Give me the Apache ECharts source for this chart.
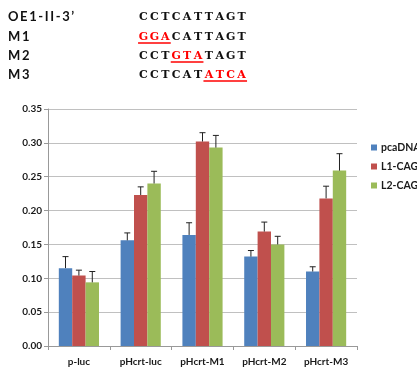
<!DOCTYPE html>
<html><head><meta charset="utf-8">
<script src="https://cdn.jsdelivr.net/npm/echarts@6/dist/echarts.min.js"></script>
<style>html,body{margin:0;padding:0;background:#fff}#c{width:417px;height:367px}</style>
</head><body><div id="c"></div>
<script>
const categories = ["p-luc","pHcrt-luc","pHcrt-M1","pHcrt-M2","pHcrt-M3"];
const seriesNames = ["pcaDNA","L1-CAG","L2-CAG"];
const pcaDNA = [0.115,0.156,0.164,0.132,0.110];
const L1CAG  = [0.104,0.223,0.302,0.169,0.218];
const L2CAG  = [0.094,0.240,0.293,0.150,0.259];
const errPca = [0.017,0.011,0.018,0.009,0.007];
const errL1  = [0.008,0.012,0.013,0.014,0.018];
const errL2  = [0.016,0.018,0.018,0.012,0.025];
const yTicks = [0,0.05,0.10,0.15,0.20,0.25,0.30,0.35];
const seqLabels = ["OE1-II-3’","M1","M2","M3"];
const sequences = ["CCTCATTAGT","GGACATTAGT","CCTGTATAGT","CCTCATATCA"];
const mutated = [null,[0,3],[3,6],[6,10]];

const colors = ["#4F81BD","#C0504D","#9BBB59"];
const FONT = "Lato";
const values = [pcaDNA,L1CAG,L2CAG];
const errs = [errPca,errL1,errL2];
const gapRatio = 0.35;

const chart = echarts.init(document.getElementById('c'));

const ctx = document.createElement('canvas').getContext('2d');
function measure(ch, font) { ctx.font = font; return ctx.measureText(ch).width; }

// header text graphics
const graphics = [];
const rowY = [17, 37, 56, 75];
const labelFont = 'bold 13px ' + FONT;
const labelX0 = 8, labelSpacing = 1.6;
const seqFont = 'bold 11px "DejaVu Serif"';
const seqX0 = 143.5, seqStep = 10.9;
seqLabels.forEach((lab, r) => {
  let x = labelX0;
  Array.from(lab).forEach((ch) => {
    graphics.push({type:'text', x: x, y: rowY[r],
      style:{text: ch, font: labelFont, fill:'#111', textAlign:'left', textVerticalAlign:'middle'}});
    x += measure(ch, labelFont) + labelSpacing;
  });
  const seq = sequences[r];
  const m = mutated[r];
  Array.from(seq).forEach((ch, i) => {
    const red = m && i >= m[0] && i < m[1];
    graphics.push({type:'text', x: seqX0 + i*seqStep, y: rowY[r],
      style:{text: ch, font: seqFont, fill: red ? '#FF0000' : '#111', textAlign:'center', textVerticalAlign:'middle'}});
  });
  if (m) {
    graphics.push({type:'line', shape:{x1: seqX0 - seqStep/2 + m[0]*seqStep, y1: rowY[r]+6, x2: seqX0 - seqStep/2 + m[1]*seqStep, y2: rowY[r]+6},
      style:{stroke:'#FF0000', lineWidth:1.3}});
  }
});

const barSeries = seriesNames.map((n, k) => ({
  name: n, type:'bar', data: values[k], barGap: '0%', barCategoryGap: (gapRatio*100)+'%',
  itemStyle:{color: colors[k]}, z: 2
}));

const errSeries = seriesNames.map((n, k) => ({
  type:'custom', name: n + ' err', z: 5,
  data: values[k].map((v, i) => [i, v, v + errs[k][i]]),
  renderItem: function (params, api) {
    const i = api.value(0);
    const band = api.size([1, 0])[0];
    const bw = band * (1 - gapRatio) / 3;
    const off = (k - 1) * bw;
    const p1 = api.coord([i, api.value(1)]);
    const p2 = api.coord([i, api.value(2)]);
    const x = p1[0] + off;
    const cap = 3;
    return {type:'group', children:[
      {type:'line', shape:{x1:x, y1:p1[1], x2:x, y2:p2[1]}, style:{stroke:'#222', lineWidth:1}},
      {type:'line', shape:{x1:x-cap, y1:p2[1], x2:x+cap, y2:p2[1]}, style:{stroke:'#222', lineWidth:1}}
    ]};
  },
  silent: true, tooltip: {show:false}
}));

chart.setOption({
  animation: false,
  textStyle: {fontFamily: FONT},
  grid: {left: 48, right: 60, top: 109, bottom: 20},
  legend: {
    data: seriesNames, orient: 'vertical', left: 366, top: 137,
    itemWidth: 6, itemHeight: 6, itemGap: 8, icon: 'rect',
    textStyle: {fontFamily: FONT, fontWeight: 'bold', fontSize: 10.5, color: '#1a1a1a', padding:[0,0,0,-1]}
  },
  xAxis: {
    type: 'category', data: categories,
    axisLine: {lineStyle: {color: '#999', width: 1}},
    axisTick: {show: true, alignWithLabel: false, length: 4, lineStyle: {color: '#999'}},
    axisLabel: {fontFamily: FONT, fontWeight: 'bold', fontSize: 10, color: '#1a1a1a', margin: 11, interval: 0}
  },
  yAxis: {
    type: 'value', min: 0, max: 0.35, interval: 0.05,
    axisLine: {show: true, lineStyle: {color: '#999', width: 1}},
    axisTick: {show: true, length: 4, lineStyle: {color: '#999'}},
    splitLine: {lineStyle: {color: '#c0c0c0', width: 1}},
    axisLabel: {fontFamily: FONT, fontWeight: 'bold', fontSize: 10, color: '#1a1a1a', margin: 6,
      formatter: v => v.toFixed(2)}
  },
  series: barSeries.concat(errSeries),
  graphic: graphics
});
</script></body></html>
